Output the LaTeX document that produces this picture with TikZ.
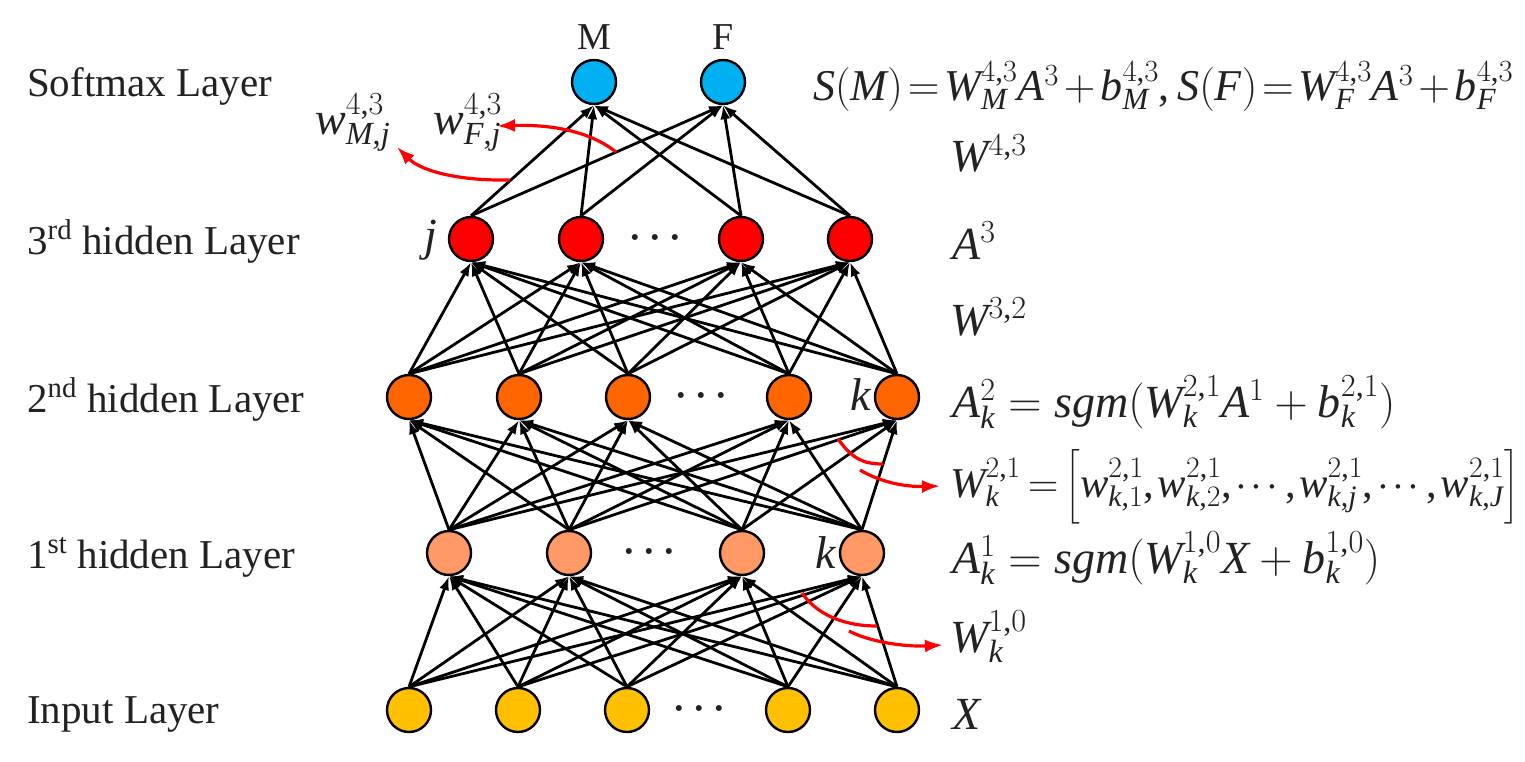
\documentclass[tikz,border=0pt]{standalone}
\usepackage{fix-cm}
\usepackage{amsmath}
\usepackage{fontspec}
\setmainfont{Liberation Serif}
\DeclareSymbolFont{operators}{TU}{\rmdefault}{m}{n}
\DeclareSymbolFont{letters}{TU}{\rmdefault}{m}{it}
\mathcode`\,="602C
\usetikzlibrary{arrows.meta}
\definecolor{cIn}{HTML}{FFC000}
\definecolor{cHa}{HTML}{FF9966}
\definecolor{cHb}{HTML}{FF6600}
\definecolor{cHc}{HTML}{FF0000}
\definecolor{cSm}{HTML}{00B0F0}
\definecolor{txt}{HTML}{222222}
\tikzset{
  neuron/.style={circle, draw=black, line width=2.4pt, minimum size=44pt, inner sep=0pt},
  conn/.style={line width=2.8pt, -{Latex[length=14pt,width=10pt]}},
  redarr/.style={red, line width=3.2pt, -{Latex[length=18pt,width=13pt]}},
  redarc/.style={red, line width=3.2pt},
  lbl/.style={anchor=base west, inner sep=0pt, font=\fontsize{41}{48}\selectfont, text=txt},
  eq/.style={anchor=base west, inner sep=0pt, font=\fontsize{46}{54}\selectfont, text=txt},
  idx/.style={inner sep=0pt, font=\fontsize{46}{54}\selectfont, text=txt},
  dotsn/.style={inner sep=0pt, font=\fontsize{56}{56}\selectfont, text=txt},
  outl/.style={inner sep=0pt, font=\fontsize{38}{44}\selectfont, text=txt},
}
\newcommand{\tightdots}{\thinmuskip=1.5mu$\cdots$}
\begin{document}
\begin{tikzpicture}[x=1pt,y=-1pt]
\useasboundingbox (0,0) rectangle (1525,762);
% neurons
\foreach \x [count=\i] in {409,518,627,788,897}
  \node[neuron, fill=cIn] (in\i) at (\x,710) {};
\foreach \x [count=\i] in {449,569,742,862}
  \node[neuron, fill=cHa] (ha\i) at (\x,553) {};
\foreach \x [count=\i] in {409,519,628,789,897}
  \node[neuron, fill=cHb] (hb\i) at (\x,397) {};
\foreach \x [count=\i] in {471,581,741,850}
  \node[neuron, fill=cHc] (hc\i) at (\x,239) {};
\node[neuron, fill=cSm] (sm1) at (594,82) {};
\node[neuron, fill=cSm] (sm2) at (723,82) {};
% connections
\foreach \i in {1,...,5} \foreach \j in {1,...,4}
  \draw[conn] (in\i.north) -- (ha\j.south);
\foreach \i in {1,...,4} \foreach \j in {1,...,5}
  \draw[conn] (ha\i.north) -- (hb\j.south);
\foreach \i in {1,...,5} \foreach \j in {1,...,4}
  \draw[conn] (hb\i.north) -- (hc\j.south);
\foreach \i in {1,...,4} \foreach \j in {1,2}
  \draw[conn] (hc\i.north) -- (sm\j.south);
% ellipses
\node[dotsn] (d0) at (702,710) {\tightdots};
\node[dotsn] (d1) at (652,553) {\tightdots};
\node[dotsn] (d2) at (704,397) {\tightdots};
\node[dotsn] (d3) at (658,239) {\tightdots};
% index labels
\node[idx] (jl) at (431,240) {$j$};
\node[idx] (kb) at (861,395) {$k$};
\node[idx] (ka) at (826,553) {$k$};
% output labels
\node[outl] (lM) at (594,37) {M};
\node[outl] (lF) at (723,37) {F};
% layer labels
\node[lbl] (L4) at (27,97) {Softmax Layer};
\node[lbl] (L3) at (27,254) {3\textsuperscript{rd} hidden Layer};
\node[lbl] (L2) at (27,412) {2\textsuperscript{nd} hidden Layer};
\node[lbl] (L1) at (27,568) {1\textsuperscript{st} hidden Layer};
\node[lbl] (L0) at (27,723) {Input Layer};
% equations
\node[eq, font=\fontsize{44}{54}\selectfont] (eS) at (813,101)
  {\thickmuskip=2mu\medmuskip=2mu$S(M)=W^{4,3}_{M}A^{3}+b^{4,3}_{M},S(F)=W^{4,3}_{F}A^{3}+b^{4,3}_{F}$};
\node[eq] (eW4) at (950,172) {$W^{4,3}$};
\node[eq] (eA3) at (952,259) {$A^{3}$};
\node[eq] (eW3) at (950,335) {$W^{3,2}$};
\node[eq] (eA2) at (952,417) {$A^{2}_{k}=sgm(W^{2,1}_{k}A^{1}+b^{2,1}_{k})$};
\node[eq, font=\fontsize{42.5}{54}\selectfont] (eW2) at (950,497)
  {\thickmuskip=3mu\thinmuskip=1.5mu$W^{2,1}_{k}=\Big[w^{2,1}_{k,1},w^{2,1}_{k,2},\cdots,w^{2,1}_{k,j},\cdots,w^{2,1}_{k,J}\Big]$};
\node[eq] (eA1) at (952,573) {$A^{1}_{k}=sgm(W^{1,0}_{k}X+b^{1,0}_{k})$};
\node[eq] (eW1) at (950,652) {$W^{1,0}_{k}$};
\node[eq] (eX) at (952,729) {$X$};
% weight labels
\node[eq] (wM) at (315,135) {$w^{4,3}_{M,j}$};
\node[eq] (wF) at (433,135) {$w^{4,3}_{F,j}$};
% red annotation arrows
\coordinate (r1s) at (510,180);
\coordinate (r1e) at (397,147);
\coordinate (r2s) at (616,152);
\coordinate (r2e) at (497,126);
\draw[redarr] (r1s) .. controls (455,181) and (420,170) .. (r1e);
\draw[redarr] (r2s) .. controls (595,135) and (560,124) .. (r2e);
\coordinate (a2s) at (838,439);
\coordinate (a2e) at (883,464);
\draw[redarc] (a2s) .. controls (852,458) and (862,464) .. (a2e);
\coordinate (b2s) at (860,470);
\coordinate (b2e) at (940,486);
\draw[redarr] (b2s) .. controls (880,482) and (905,487) .. (b2e);
\coordinate (a1s) at (802,593);
\coordinate (a1e) at (877,626);
\draw[redarc] (a1s) .. controls (815,612) and (840,626) .. (a1e);
\coordinate (b1s) at (849,631);
\coordinate (b1e) at (943,645);
\draw[redarr] (b1s) .. controls (870,642) and (905,647) .. (b1e);
\end{tikzpicture}
\end{document}
